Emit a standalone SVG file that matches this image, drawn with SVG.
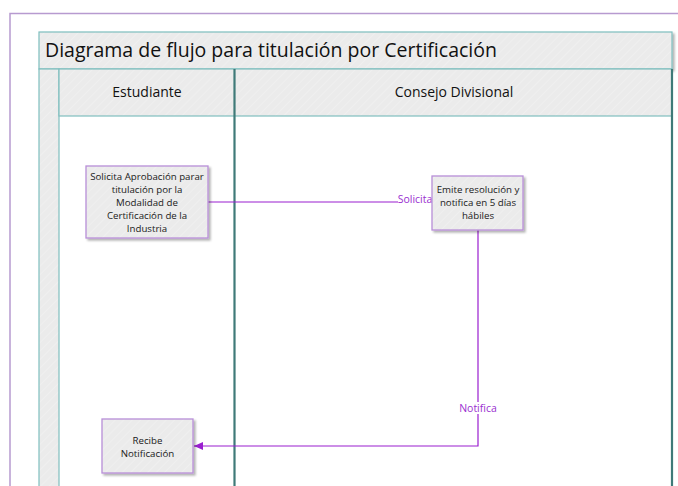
<svg xmlns="http://www.w3.org/2000/svg" width="678" height="486" viewBox="0 0 678 486">
<defs>
<pattern id="hatch" width="6" height="6" patternUnits="userSpaceOnUse" patternTransform="rotate(45)">
<rect width="6" height="6" fill="#ebebeb"/>
<line x1="0" y1="0" x2="0" y2="6" stroke="#f1f1f1" stroke-width="1.5"/>
</pattern>
<filter id="sh" x="-10%" y="-10%" width="130%" height="130%">
<feDropShadow dx="2" dy="2" stdDeviation="1" flood-color="#000" flood-opacity="0.3"/>
</filter>
<marker id="arr" markerWidth="10" markerHeight="10" refX="9" refY="5" orient="auto" markerUnits="userSpaceOnUse">
<path d="M0,1 L9,5 L0,9 Z" fill="#9a1fd0"/>
</marker>
</defs>
<style>
.frame{fill:none;stroke:#b79ad0;stroke-width:1.5}
.band{fill:url(#hatch);stroke:#7fbfbf;stroke-width:1.2}
.dark{stroke:#3f7a78;stroke-width:2.2;fill:none}
.node rect{fill:url(#hatch);stroke:#b88fd8;stroke-width:1.3;filter:url(#sh)}
.node text{font-family:"Open Sans","Noto Sans",sans-serif;font-size:9.7px;fill:#1a1a1a;text-anchor:middle}
.title{font-family:"Open Sans","Noto Sans",sans-serif;font-size:19.5px;fill:#111}
.hdr{font-family:"Open Sans","Noto Sans",sans-serif;font-size:14px;fill:#111;text-anchor:middle}
.edge{stroke:#9a1fd0;stroke-width:1.2;fill:none}
.elabel{font-family:"Open Sans","Noto Sans",sans-serif;font-size:10.5px;fill:#9a2fd0;text-anchor:middle}
</style>
<rect width="678" height="486" fill="#fff"/>
<path class="frame" d="M10,486 V13.5 H678"/>
<g id="pool">
<rect class="band" x="39" y="32" width="633" height="37" filter="url(#sh)"/>
<text class="title" x="45" y="57">Diagrama de flujo para titulación por Certificación</text>
<rect class="band" x="39" y="69" width="20" height="420"/>
<rect class="band" x="59" y="69" width="613" height="47"/>
<rect x="60" y="118" width="611" height="370" fill="#fff"/>
<line x1="59" y1="116.5" x2="672" y2="116.5" class="dark" filter="url(#sh)"/>
<line x1="234.5" y1="69" x2="234.5" y2="486" class="dark"/>
<line x1="672" y1="69" x2="672" y2="486" class="dark"/>
<text class="hdr" x="147" y="97">Estudiante</text>
<text class="hdr" x="454" y="97">Consejo Divisional</text>
</g>
<g id="connectors">
<path class="edge" d="M208,202 H432"/>
<rect x="398" y="194" width="34" height="12" fill="#fff"/>
<text class="elabel" x="415" y="203">Solicita</text>
<path class="edge" d="M478,230 V446 H194" marker-end="url(#arr)"/>
<rect x="459" y="402" width="38" height="12" fill="#fff"/>
<text class="elabel" x="478" y="412">Notifica</text>
</g>
<g id="n1" class="node">
<rect x="86" y="166" width="122" height="72"/>
<text x="147" y="180">Solicita Aprobación parar</text>
<text x="147" y="193">titulación por la</text>
<text x="147" y="206">Modalidad de</text>
<text x="147" y="219">Certificación de la</text>
<text x="147" y="232">Industria</text>
</g>
<g id="n2" class="node">
<rect x="432" y="176" width="91" height="54"/>
<text x="478" y="193">Emite resolución y</text>
<text x="478" y="206">notifica en 5 días</text>
<text x="478" y="219">hábiles</text>
</g>
<g id="n3" class="node">
<rect x="102" y="419" width="91" height="54"/>
<text x="147.5" y="444">Recibe</text>
<text x="147.5" y="457">Notificación</text>
</g>
</svg>
